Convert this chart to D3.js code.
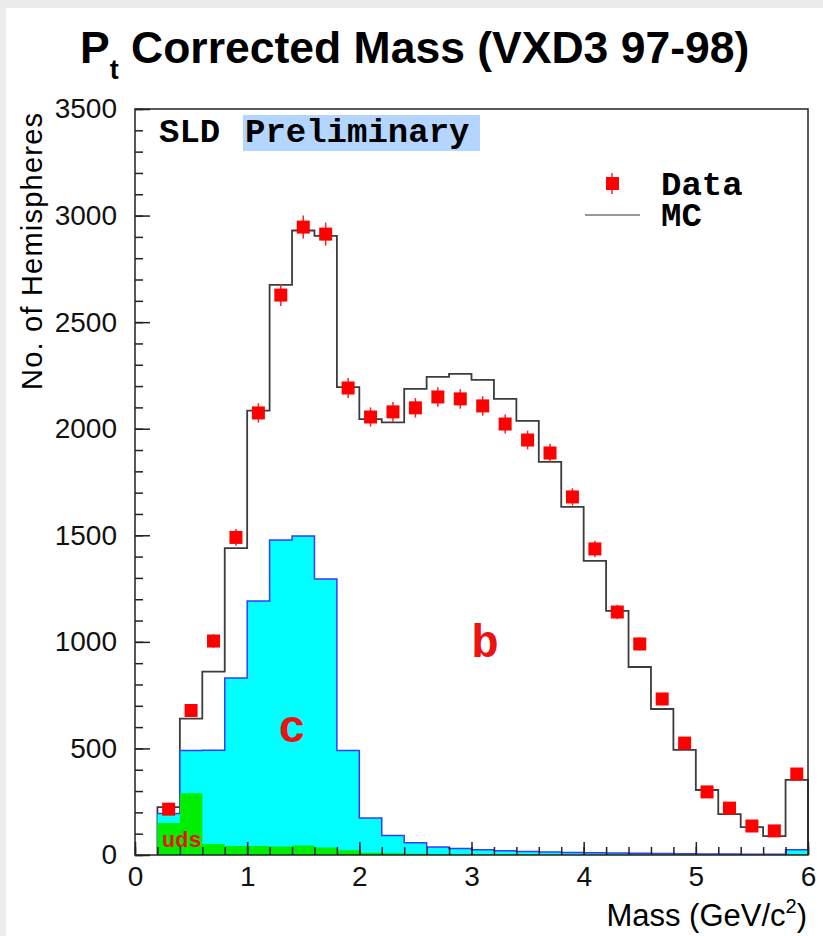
<!DOCTYPE html>
<html>
<head>
<meta charset="utf-8">
<script src="https://cdnjs.cloudflare.com/ajax/libs/d3/7.8.5/d3.min.js"></script>
<style>
  body { margin: 0; background: #ffffff; }
  .tick line { stroke: #222; stroke-width: 1.5; }
  .tick text { font-family: "Liberation Sans", Arial, sans-serif; font-size: 28px; fill: #111; }
</style>
</head>
<body>
<div class="vis-holder"></div>
<script>
// lower edge of each mass bin (GeV/c^2), bin width 0.2
var binLow = [0.2, 0.4, 0.6, 0.8, 1.0, 1.2, 1.4, 1.6, 1.8, 2.0,
              2.2, 2.4, 2.6, 2.8, 3.0, 3.2, 3.4, 3.6, 3.8, 4.0,
              4.2, 4.4, 4.6, 4.8, 5.0, 5.2, 5.4, 5.6, 5.8];
var binWidth = 0.2;

// data points and their errors
var dataCounts = [215, 678, 1004, 1490, 2074, 2627, 2946, 2913, 2191, 2055,
                  2079, 2098, 2149, 2140, 2107, 2022, 1947, 1886, 1680, 1436,
                  1140, 990, 732, 525, 296, 220, 136, 113, 380];
var dataErr = [15, 26, 32, 39, 46, 51, 54, 54, 47, 45,
               46, 46, 46, 46, 46, 45, 44, 43, 41, 38,
               34, 31, 27, 23, 17, 15, 12, 11, 19];

// total MC histogram
var mcCounts = [225, 640, 860, 1440, 2085, 2675, 2930, 2905, 2195, 2045,
                2030, 2187, 2243, 2257, 2229, 2140, 2037, 1844, 1633, 1380,
                1145, 882, 685, 493, 305, 192, 131, 89, 352];

// MC flavour components (stacked: uds at the bottom, c above it)
var udsCounts = [150, 290, 52, 42, 42, 40, 45, 35, 22, 10,
                 8, 6, 5, 4, 4, 3, 3, 2, 2, 2,
                 2, 1, 1, 1, 1, 1, 1, 1, 3];
var charmCounts = [45, 200, 440, 788, 1150, 1438, 1452, 1260, 468, 164,
                   83, 52, 33, 26, 21, 17, 14, 12, 10, 8,
                   7, 7, 6, 5, 4, 4, 3, 3, 22];

var xMajorTicks = [0, 1, 2, 3, 4, 5, 6];
var yMajorTicks = [0, 500, 1000, 1500, 2000, 2500, 3000, 3500];

// svg width and height
var width = 823;
var height = 936;
var margin = { top: 109, bottom: 81, left: 135, right: 15 };

var svg = d3.select(".vis-holder")
            .append("svg")
            .attr("width", width)
            .attr("height", height);

// light grey page border seen on the left and top edges
svg.append("rect").attr("x", 0).attr("y", 0).attr("width", width).attr("height", 8).attr("fill", "#ececec");
svg.append("rect").attr("x", 0).attr("y", 0).attr("width", 6).attr("height", height).attr("fill", "#ececec");

var xScale = d3.scaleLinear()
               .domain([0, 6])
               .range([margin.left, width - margin.right]);

var yScale = d3.scaleLinear()
               .domain([0, 3500])
               .range([height - margin.bottom, margin.top]);

// rows for the histogram shapes, with a closing point at the right edge
var rows = binLow.map(function(x, i) {
  return { x: x, mc: mcCounts[i], uds: udsCounts[i], c: charmCounts[i] };
});
rows.push({ x: binLow[binLow.length - 1] + binWidth, mc: mcCounts[mcCounts.length - 1],
            uds: udsCounts[udsCounts.length - 1], c: charmCounts[charmCounts.length - 1] });

var stack = d3.stack().keys(["uds", "c"]);
var layers = stack(rows);

// MC total as a step line
var mcLine = d3.line()
               .curve(d3.curveStepAfter)
               .x(function(d) { return xScale(d.x); })
               .y(function(d) { return yScale(d.mc); });

var mcPts = [{ x: rows[0].x, mc: 0 }].concat(rows).concat([{ x: rows[rows.length - 1].x, mc: 0 }]);
svg.append("path")
   .attr("d", mcLine(mcPts))
   .attr("fill", "none")
   .attr("stroke", "#3c3c3c")
   .attr("stroke-width", 1.8);

var area = d3.area()
             .curve(d3.curveStepAfter)
             .x(function(d) { return xScale(d.data.x); })
             .y0(function(d) { return yScale(d[0]); })
             .y1(function(d) { return yScale(d[1]); });

// charm (cyan) drawn from zero up to the stacked top
var cTop = d3.area()
             .curve(d3.curveStepAfter)
             .x(function(d) { return xScale(d.data.x); })
             .y0(yScale(0))
             .y1(function(d) { return yScale(d[1]); });

svg.append("path")
   .attr("d", cTop(layers[1]))
   .attr("fill", "#00ffff")
   .attr("stroke", "none");

var cOutline = d3.line()
                 .curve(d3.curveStepAfter)
                 .x(function(d) { return xScale(d.data.x); })
                 .y(function(d) { return yScale(d[1]); });
svg.append("path")
   .attr("d", cOutline(layers[1]))
   .attr("fill", "none")
   .attr("stroke", "#3a3aff")
   .attr("stroke-width", 1.5);

// uds (green)
svg.append("path")
   .attr("d", area(layers[0]))
   .attr("fill", "#00ee00")
   .attr("stroke", "none");

// data points with vertical error bars
var pts = svg.append("g")
             .selectAll("g")
             .data(binLow.map(function(x, i) { return { x: x + binWidth / 2, n: dataCounts[i], e: dataErr[i] }; }))
             .enter()
             .append("g");

pts.append("line")
   .attr("x1", function(d) { return xScale(d.x); })
   .attr("x2", function(d) { return xScale(d.x); })
   .attr("y1", function(d) { return yScale(d.n - d.e); })
   .attr("y2", function(d) { return yScale(d.n + d.e); })
   .attr("stroke", "#ff2020")
   .attr("stroke-width", 1.5);

pts.append("rect")
   .attr("x", function(d) { return xScale(d.x) - 6.5; })
   .attr("y", function(d) { return yScale(d.n) - 6.5; })
   .attr("width", 13)
   .attr("height", 13)
   .attr("fill", "#ff0000");

// axes: minor and major ticks pointing into the frame
svg.append("g")
   .attr("transform", "translate(" + margin.left + ",0)")
   .call(d3.axisLeft(yScale).tickValues(d3.range(0, 3501, 100)).tickSize(-8).tickFormat(""))
   .call(function(g) { g.select(".domain").remove(); });

svg.append("g")
   .attr("transform", "translate(" + margin.left + ",0)")
   .call(d3.axisLeft(yScale).tickValues(yMajorTicks).tickSize(-15).tickPadding(18).tickFormat(d3.format("d")))
   .call(function(g) { g.select(".domain").remove(); });

svg.append("g")
   .attr("transform", "translate(0," + (height - margin.bottom) + ")")
   .call(d3.axisBottom(xScale).tickValues(d3.range(0, 6.01, 0.2)).tickSize(-8).tickFormat(""))
   .call(function(g) { g.select(".domain").remove(); });

svg.append("g")
   .attr("transform", "translate(0," + (height - margin.bottom) + ")")
   .call(d3.axisBottom(xScale).tickValues(xMajorTicks).tickSize(-13).tickPadding(11).tickFormat(d3.format("d")))
   .call(function(g) { g.select(".domain").remove(); });

// frame
svg.append("rect")
   .attr("x", margin.left)
   .attr("y", margin.top)
   .attr("width", width - margin.right - margin.left)
   .attr("height", height - margin.bottom - margin.top)
   .attr("fill", "none")
   .attr("stroke", "#222")
   .attr("stroke-width", 1.5);

// title
var title = svg.append("text")
               .attr("x", 80)
               .attr("y", 63)
               .style("font-family", "'Liberation Sans', Arial, sans-serif")
               .style("font-weight", "bold")
               .style("font-size", "44.5px")
               .attr("fill", "#000");
title.append("tspan").text("P");
title.append("tspan").attr("dy", 16).style("font-size", "27px").text("t");
title.append("tspan").attr("dy", -16).text(" Corrected Mass (VXD3 97-98)");

// axis titles
var yLabel = svg.append("text")
                .attr("transform", "translate(42,390)rotate(-90)")
                .attr("text-anchor", "start")
                .attr("textLength", 277)
                .attr("lengthAdjust", "spacing")
                .style("font-family", "'Liberation Sans', Arial, sans-serif")
                .style("font-size", "29px")
                .text("No. of Hemispheres");

var xLabel = svg.append("text")
                .attr("x", 807)
                .attr("y", 926)
                .attr("text-anchor", "end")
                .style("font-family", "'Liberation Sans', Arial, sans-serif")
                .style("font-size", "31px");
xLabel.append("tspan").text("Mass (GeV/c");
xLabel.append("tspan").attr("dy", -13).style("font-size", "20px").text("2");
xLabel.append("tspan").attr("dy", 13).text(")");

// SLD Preliminary label
svg.append("rect")
   .attr("x", 243).attr("y", 115).attr("width", 237).attr("height", 36)
   .attr("fill", "#b4d5fe");
var mono = "'Liberation Mono', 'Courier New', monospace";
svg.append("text")
   .attr("x", 159).attr("y", 142)
   .style("font-family", mono).style("font-weight", "bold").style("font-size", "34px")
   .text("SLD");
svg.append("text")
   .attr("x", 245).attr("y", 142)
   .style("font-family", mono).style("font-weight", "bold").style("font-size", "34px")
   .text("Preliminary");

// legend
svg.append("line").attr("x1", 612).attr("x2", 612).attr("y1", 173).attr("y2", 194)
   .attr("stroke", "#ff2020").attr("stroke-width", 1.5);
svg.append("rect").attr("x", 606).attr("y", 177).attr("width", 13).attr("height", 13).attr("fill", "#ff0000");
svg.append("text").attr("x", 661).attr("y", 195)
   .style("font-family", mono).style("font-weight", "bold").style("font-size", "34px")
   .text("Data");
svg.append("line").attr("x1", 585).attr("x2", 640).attr("y1", 215).attr("y2", 215)
   .attr("stroke", "#999").attr("stroke-width", 2);
svg.append("text").attr("x", 661).attr("y", 226)
   .style("font-family", mono).style("font-weight", "bold").style("font-size", "34px")
   .text("MC");

// flavour labels
svg.append("text").attr("x", 485).attr("y", 657).attr("text-anchor", "middle")
   .style("font-family", mono).style("font-weight", "bold").style("font-size", "46px")
   .attr("fill", "#ee1111").text("b");
svg.append("text").attr("x", 292).attr("y", 742).attr("text-anchor", "middle")
   .style("font-family", mono).style("font-weight", "bold").style("font-size", "46px")
   .attr("fill", "#ee1111").text("c");
svg.append("text").attr("x", 162).attr("y", 847)
   .style("font-family", mono).style("font-weight", "bold").style("font-size", "22px")
   .attr("fill", "#ee1111").text("uds");
</script>
</body>
</html>
